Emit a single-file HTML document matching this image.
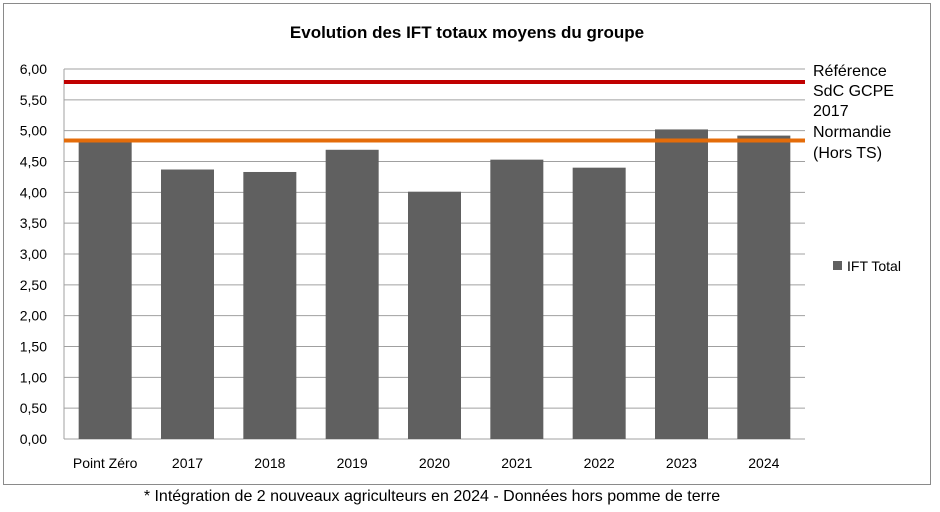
<!DOCTYPE html>
<html><head><meta charset="utf-8"><style>
body{margin:0;background:#fff;font-family:"Liberation Sans",sans-serif}
svg text{font-family:"Liberation Sans",sans-serif}
</style></head><body>
<svg width="940" height="507">
<rect x="3.5" y="3.5" width="927" height="481" fill="#fff" stroke="#8a8a8a"/>
<text x="467" y="38" text-anchor="middle" font-size="17" font-weight="bold" fill="#000">Evolution des IFT totaux moyens du groupe</text>
<g id="grid"></g><g id="bars"></g><g id="lines"></g><g id="labels"></g>
<rect x="833" y="261" width="9" height="9" fill="#606060"/>
<text x="847" y="271" font-size="14">IFT Total</text>
<text x="813" y="76" font-size="16">Référence</text>
<text x="813" y="96" font-size="16">SdC GCPE</text>
<text x="813" y="116" font-size="16">2017</text>
<text x="813" y="137" font-size="16">Normandie</text>
<text x="813" y="158" font-size="16">(Hors TS)</text>
<text x="432" y="501" text-anchor="middle" font-size="16">* Intégration de 2 nouveaux agriculteurs en 2024 - Données hors pomme de terre</text>
</svg>
<script>
const categories=["Point Zéro","2017","2018","2019","2020","2021","2022","2023","2024"];
const iftTotal=[4.82,4.37,4.33,4.69,4.01,4.53,4.40,5.02,4.92];
const refRed=[5.79];
const refOrange=[4.84];
const yTicks=[0,0.5,1,1.5,2,2.5,3,3.5,4,4.5,5,5.5,6];
const X0=64,X1=805,Y0=439,YT=69,YMAX=6;
const y=v=>Y0-(v/YMAX)*(Y0-YT);
const band=(X1-X0)/categories.length;
const xc=i=>X0+band*(i+0.5);
const NS="http://www.w3.org/2000/svg";
function mk(t,a,p){const e=document.createElementNS(NS,t);for(const k in a)e.setAttribute(k,a[k]);document.getElementById(p).appendChild(e);return e;}
yTicks.forEach(t=>{
 const l=mk("line",{x1:X0,x2:X1,y1:y(t),y2:y(t),stroke:"#a0a0a0","stroke-width":1},"grid");
 
 
 const tx=mk("text",{x:47,y:y(t)+5,"text-anchor":"end","font-size":14},"grid");
 tx.textContent=t.toFixed(2).replace(".",",");
 
 
});
const ax=mk("line",{x1:X0,x2:X0,y1:YT,y2:Y0,stroke:"#a0a0a0"},"grid");


const bw=53;
iftTotal.forEach((v,i)=>{
 const r=mk("rect",{x:xc(i)-bw/2,y:y(v),width:bw,height:Y0-y(v),fill:"#606060"},"bars");
 
 
 const tx=mk("text",{x:xc(i),y:468,"text-anchor":"middle","font-size":14},"labels");
 tx.textContent=categories[i];
 
 
});
const lr=mk("line",{x1:X0,x2:X1,y1:y(refRed[0]),y2:y(refRed[0]),stroke:"#c00000","stroke-width":4},"lines");


const lo=mk("line",{x1:X0,x2:X1,y1:y(refOrange[0]),y2:y(refOrange[0]),stroke:"#e46c0a","stroke-width":4},"lines");


</script>
</body></html>
